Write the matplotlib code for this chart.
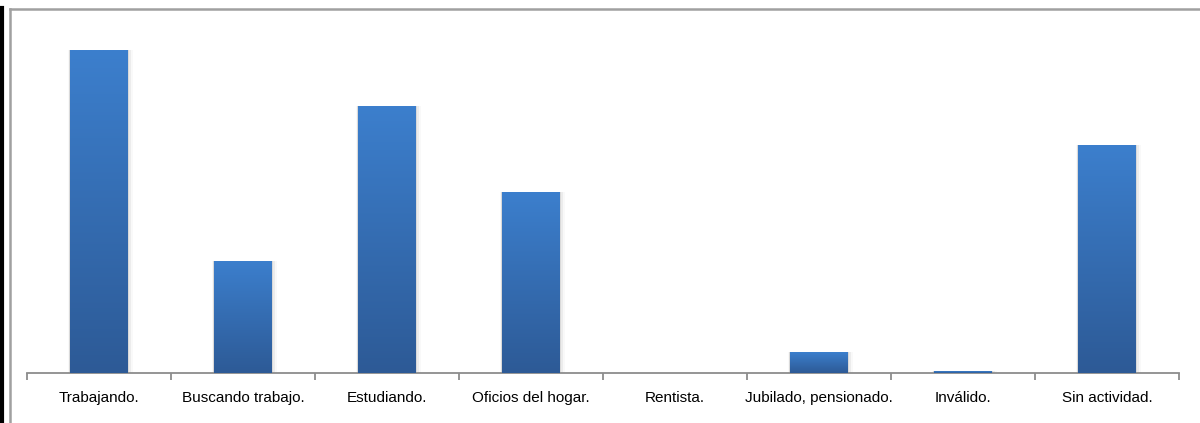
import matplotlib
matplotlib.use("Agg")
import matplotlib.pyplot as plt
import numpy as np
from matplotlib.lines import Line2D
from matplotlib.patches import Rectangle
from matplotlib.colors import LinearSegmentedColormap

categories = ["Trabajando.", "Buscando trabajo.", "Estudiando.", "Oficios del hogar.",
              "Rentista.", "Jubilado, pensionado.", "Inválido.", "Sin actividad."]
values = [323, 112, 267, 181, 0, 21, 2, 228]

W, H = 1200, 423
fig = plt.figure(figsize=(W / 100, H / 100), dpi=100)
fig.patch.set_facecolor("white")

ax = fig.add_axes([27 / W, 1 - 373 / H, (1179 - 27) / W, (373 - 30) / H])
ax.set_facecolor("white")

cmap = LinearSegmentedColormap.from_list("g", ["#2D5A96", "#3C7FCD"])
grad = np.linspace(0, 1, 256).reshape(-1, 1)
bw = 0.4
x = np.arange(len(categories))
bars = ax.bar(x, values, width=bw, color="none", edgecolor="none", zorder=3)
for b, v in zip(bars, values):
    if v <= 0:
        continue
    x0 = b.get_x()
    for i, a in enumerate([0.08, 0.05, 0.025]):
        sh = Rectangle((x0 - 0.005 * (i + 1), -0.5), bw + 0.01 * (i + 1) * 1.6, v + 0.3 * (i + 1),
                       facecolor="black", alpha=a, edgecolor="none", zorder=2)
        ax.add_patch(sh)
    im = ax.imshow(grad, extent=[x0, x0 + bw, 0, v], origin="lower", cmap=cmap,
                   aspect="auto", zorder=3, interpolation="bilinear")
    im.set_clip_path(b)
ax.set_xlim(-0.5, len(categories) - 0.5)
ax.set_ylim(0, 343)

for s in ["top", "right", "left"]:
    ax.spines[s].set_visible(False)
ax.spines["bottom"].set_color("#8C8C8C")
ax.spines["bottom"].set_linewidth(1.3)
ax.set_yticks([])
ax.set_xticks(np.arange(-0.5, len(categories), 1.0))
ax.tick_params(axis="x", which="major", length=5, color="#8C8C8C", width=1.3, labelbottom=False)
ax.set_xticks(x, minor=True)
ax.set_xticklabels(categories, minor=True, fontsize=11,
                   family=["Liberation Sans Narrow", "Liberation Sans", "DejaVu Sans"])
ax.tick_params(axis="x", which="minor", length=0, pad=13, labelcolor="black")

fig.add_artist(Line2D([9.5 / W, 9.5 / W], [0, 1 - 9.5 / H], color="#A0A0A0", lw=1.8, transform=fig.transFigure))
fig.add_artist(Line2D([9.5 / W, 1], [1 - 9.5 / H, 1 - 9.5 / H], color="#A0A0A0", lw=1.8, transform=fig.transFigure))
fig.add_artist(Line2D([1.5 / W, 1.5 / W], [0, 1 - 8 / H], color="black", lw=3.0, transform=fig.transFigure))

fig.savefig("out.png", dpi=100, facecolor="white")
